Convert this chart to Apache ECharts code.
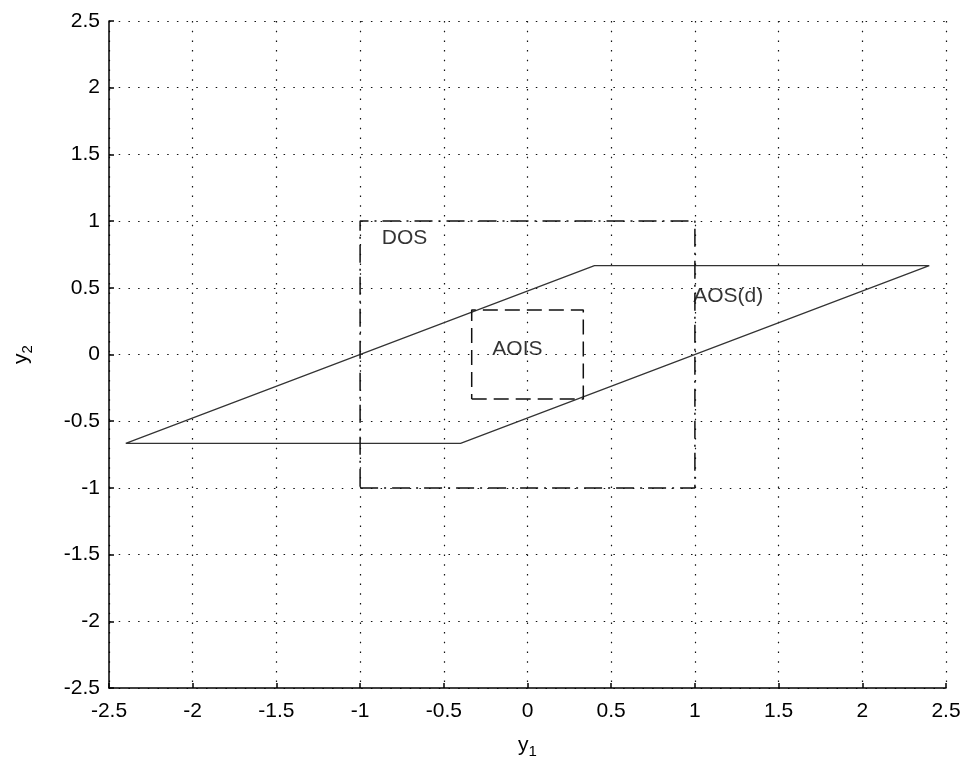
<!DOCTYPE html>
<html>
<head>
<meta charset="utf-8">
<script src="https://cdn.jsdelivr.net/npm/echarts@6/dist/echarts.min.js"></script>
<style>
    html, body { margin: 0; padding: 0; background: #fff; }
    #chart { width: 972px; height: 760px; }
</style>
</head>
<body>
<div id="chart"></div>
<script>
// AOS(d): parallelogram, closed
const aosX = [-2.4, -0.4, 2.4, 0.4, -2.4];
const aosY = [-2 / 3, -2 / 3, 2 / 3, 2 / 3, -2 / 3];

// DOS: unit box
const dosX = [-1, 1, 1, -1, -1];
const dosY = [-1, -1, 1, 1, -1];

// AOIS: inner box
const aoisX = [-1 / 3, 1 / 3, 1 / 3, -1 / 3, -1 / 3];
const aoisY = [-1 / 3, -1 / 3, 1 / 3, 1 / 3, -1 / 3];

// text annotations (left edge, vertical centre)
const labelNames = ['DOS', 'AOS(d)', 'AOIS'];
const labelX = [-0.87, 0.99, -0.21];
const labelY = [0.87, 0.44, 0.04];

const tickMin = -2.5;
const tickMax = 2.5;
const tickStep = 0.5;

const font = 'Liberation Sans, Arial, sans-serif';
const zip = (xs, ys) => xs.map((x, i) => [x, ys[i]]);

const gridLine = {show: true, lineStyle: {color: '#111', width: 1.2, type: [1.5, 8.2]}};

const axisBase = {
    type: 'value',
    min: tickMin,
    max: tickMax,
    interval: tickStep,
    axisLine: {show: true, onZero: false, lineStyle: {color: '#000', width: 1.5}},
    axisTick: {show: true, inside: true, length: 5, lineStyle: {color: '#000', width: 1.5}},
    axisLabel: {color: '#000', fontFamily: font, fontSize: 21, margin: 9},
    splitLine: gridLine,
    nameLocation: 'middle',
    nameTextStyle: {
        color: '#000',
        rich: {
            v: {fontFamily: font, fontSize: 21, color: '#000'},
            s: {fontFamily: font, fontSize: 15, color: '#000', verticalAlign: 'bottom', padding: [12, 0, 0, 0]}
        }
    }
};

const chart = echarts.init(document.getElementById('chart'));
chart.setOption({
    animation: false,
    backgroundColor: '#fff',
    grid: {left: 109, right: 26, top: 21, bottom: 72, containLabel: false, outerBoundsMode: 'none'},
    xAxis: Object.assign({}, axisBase, {
        name: '{v|y}{s|1}',
        nameGap: 44,
        axisLabel: Object.assign({}, axisBase.axisLabel, {margin: 13})
    }),
    yAxis: Object.assign({}, axisBase, {name: '{v|y}{s|2}', nameGap: 74}),
    series: [
        {
            type: 'line',
            data: zip(aosX, aosY),
            symbol: 'none',
            lineStyle: {color: '#333', width: 1.2, type: 'solid'}
        },
        {
            type: 'line',
            data: zip(dosX, dosY),
            symbol: 'none',
            lineStyle: {color: '#111', width: 1.5, type: [18, 6, 2, 6]}
        },
        {
            type: 'line',
            data: zip(aoisX, aoisY),
            symbol: 'none',
            lineStyle: {color: '#111', width: 1.5, type: [15, 7]}
        },
        {
            type: 'scatter',
            symbolSize: 0,
            data: labelNames.map((n, i) => ({value: [labelX[i], labelY[i]], name: n})),
            label: {
                show: true,
                position: 'right',
                distance: 0,
                formatter: p => p.name,
                color: '#000',
                fontFamily: font,
                fontSize: 21
            }
        }
    ]
});
</script>
</body>
</html>
